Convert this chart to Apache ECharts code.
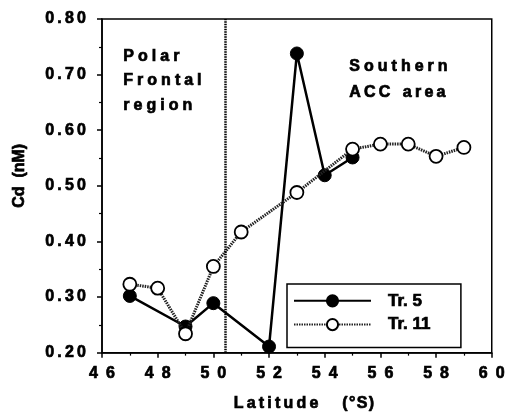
<!DOCTYPE html>
<html>
<head>
<meta charset="utf-8">
<script src="https://cdn.jsdelivr.net/npm/echarts@6/dist/echarts.min.js"></script>
<style>html,body{margin:0;padding:0;background:#fff;}#c{width:508px;height:417px;}</style>
</head>
<body>
<div id="c"></div>
<script>
// Data
var tr5Lat = [47, 49, 50, 52, 53, 54, 55];
var tr5Cd = [0.302, 0.247, 0.289, 0.211, 0.738, 0.519, 0.551];
var tr11Lat = [47, 48, 49, 50, 51, 53, 55, 56, 57, 58, 59];
var tr11Cd = [0.323, 0.316, 0.234, 0.355, 0.417, 0.488, 0.566, 0.575, 0.575, 0.553, 0.569];
var frontLat = 50.43;
var seriesNames = ['Tr. 5', 'Tr. 11'];
var regionLabels = ['Polar\nFrontal\nregion', 'Southern\nACC  area'];
var xTicks = {min: 46, max: 60, step: 2};
var yTicks = {min: 0.2, max: 0.8, step: 0.1};

var FONT = '"Liberation Sans", Arial, sans-serif';
function spaced(s, sp) { return s.split('').join(sp); }
function txt(extra) {
  var o = {fontFamily: FONT, fontWeight: 'bold', fontSize: 16, color: '#000', textBorderColor: '#000', textBorderWidth: 0.7};
  for (var k in extra) o[k] = extra[k];
  return o;
}

var chart = echarts.init(document.getElementById('c'), null, {renderer: 'canvas'});
chart.setOption({
  animation: false,
  backgroundColor: '#fff',
  grid: {left: 102, top: 19, right: 15, bottom: 60, show: true, borderColor: '#000', borderWidth: 1.5, backgroundColor: 'transparent'},
  xAxis: {
    type: 'value', min: xTicks.min, max: xTicks.max, interval: xTicks.step,
    name: spaced('Latitude', '\u2009') + '\u2003\u2002' + spaced('(\u00B0S)', '\u200A'),
    nameLocation: 'middle', nameGap: 43,
    nameTextStyle: txt({padding: [0, 0, 0, 14]}),
    axisLine: {lineStyle: {color: '#000', width: 1.5}},
    axisTick: {length: 5, lineStyle: {color: '#000', width: 1.5}},
    minorTick: {show: true, splitNumber: 2, length: 3, lineStyle: {color: '#000', width: 1.2}},
    splitLine: {show: false},
    axisLabel: txt({margin: 13,
      formatter: function (v) { return spaced(String(v), '\u2002'); }})
  },
  yAxis: {
    type: 'value', min: yTicks.min, max: yTicks.max, interval: yTicks.step,
    name: 'Cd  (nM)',
    nameLocation: 'middle', nameGap: 74,
    nameTextStyle: txt({padding: [0, 0, 0, 20]}),
    axisLine: {lineStyle: {color: '#000', width: 1.5}},
    axisTick: {length: 5, lineStyle: {color: '#000', width: 1.5}},
    minorTick: {show: true, splitNumber: 2, length: 3, lineStyle: {color: '#000', width: 1.2}},
    splitLine: {show: false},
    axisLabel: txt({margin: 16,
      formatter: function (v) { return spaced(v.toFixed(2), '\u2009'); }})
  },
  legend: {
    data: seriesNames,
    orient: 'vertical',
    left: 287, top: 284,
    borderColor: '#000', borderWidth: 1.5,
    backgroundColor: '#fff',
    padding: [8, 30, 14, 6],
    itemWidth: 77, itemHeight: 14, itemGap: 6,
    textStyle: txt({fontSize: 17, padding: [0, 0, 0, 12]})
  },
  graphic: [
    {type: 'text', left: 123, top: 44, z: 10, style: {text: spaced(regionLabels[0], '\u2005').replace(/\u2005\n\u2005/g, '\n'), font: 'bold 16px ' + FONT, fill: '#000', stroke: '#000', lineWidth: 0.7, lineHeight: 24.5}},
    {type: 'text', left: 349, top: 54, z: 10, style: {text: 'S\u2005o\u2005u\u2005t\u2005h\u2005e\u2005r\u2005n\nA\u2009C\u2009C\u2005\u2005 a\u2009r\u2009e\u2009a', font: 'bold 16px ' + FONT, fill: '#000', stroke: '#000', lineWidth: 0.7, lineHeight: 26}}
  ],
  series: [
    {
      name: seriesNames[0], type: 'line',
      data: tr5Lat.map(function (x, i) { return [x, tr5Cd[i]]; }),
      symbol: 'circle', symbolSize: 13,
      itemStyle: {color: '#000', borderColor: '#000', borderWidth: 1},
      lineStyle: {color: '#000', width: 2.5},
      markLine: {
        silent: true, symbol: 'none', label: {show: false},
        lineStyle: {color: '#000', width: 2.5, type: [1.5, 1]},
        data: [{xAxis: frontLat}]
      },
      z: 3
    },
    {
      name: seriesNames[1], type: 'line',
      data: tr11Lat.map(function (x, i) { return [x, tr11Cd[i]]; }),
      symbol: 'circle', symbolSize: 13,
      itemStyle: {color: '#fff', borderColor: '#000', borderWidth: 1.8},
      lineStyle: {color: '#222', width: 3, type: [1.5, 1]},
      z: 4
    }
  ]
});
</script>
</body>
</html>
